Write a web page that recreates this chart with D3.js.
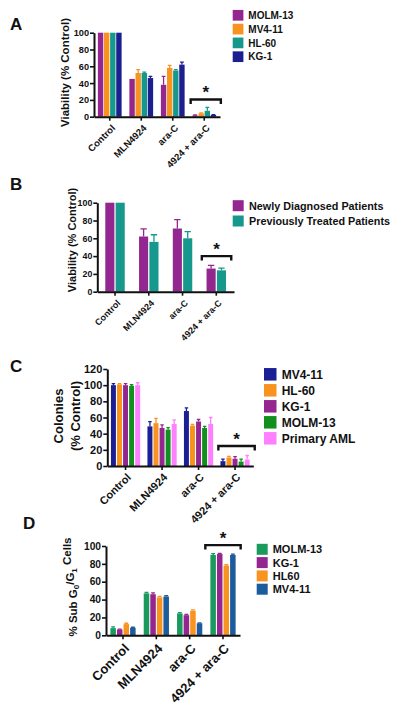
<!DOCTYPE html>
<html><head><meta charset="utf-8">
<script src="https://cdn.jsdelivr.net/npm/d3@7"></script>
<style>body{margin:0;background:#fff}svg{display:block}text{font-family:"Liberation Sans",Arial,sans-serif;font-weight:bold;fill:#111}</style>
</head><body>
<svg id="chart" width="400" height="707"></svg>
<script>
// ---------- data ----------
const groups = ["Control", "MLN4924", "ara-C", "4924 + ara-C"];
const yTicks100 = [0, 20, 40, 60, 80, 100];
const yTicks120 = [0, 20, 40, 60, 80, 100, 120];

// Panel A
const seriesA = ["MOLM-13", "MV4-11", "HL-60", "KG-1"];
const colorsA = ["#93278f", "#f7931e", "#17988c", "#1b1f8f"];
const valuesA = [[100, 45, 38, 1.5], [100, 52, 58, 4], [100, 52, 55, 7], [100, 46, 62, 2]];
const errorsA = [[0, 0, 10, 0.5], [0, 4, 3, 0.5], [0, 1, 1, 4], [0, 2, 3, 0.5]];

// Panel B
const seriesB = ["Newly Diagnosed Patients", "Previously Treated Patients"];
const colorsB = ["#93278f", "#17988c"];
const valuesB = [[100, 62, 71, 26], [100, 56, 60, 24]];
const errorsB = [[0, 8.5, 10, 3.5], [0, 8, 7.5, 2.5]];

// Panel C
const seriesC = ["MV4-11", "HL-60", "KG-1", "MOLM-13", "Primary AML"];
const colorsC = ["#1b1f96", "#f7931e", "#93278f", "#12901e", "#ff80ff"];
const valuesC = [[100, 49, 68, 6], [101, 53, 50, 10.5], [100, 47, 55, 9], [99, 45, 47, 5.5], [100, 52, 52, 8]];
const errorsC = [[2, 6, 4, 2.5], [1, 6, 1.5, 1.5], [2, 4, 2.5, 2.5], [1.5, 2.5, 2, 3], [3, 5, 8, 5]];

// Panel D
const seriesD = ["MOLM-13", "KG-1", "HL60", "MV4-11"];
const colorsD = ["#1b9a5e", "#93278f", "#f7931e", "#1c5b9c"];
const valuesD = [[8, 47, 24.5, 90], [6.5, 46, 22.5, 91], [12.5, 42.5, 27.5, 78], [8.5, 43.5, 13.5, 90]];
const errorsD = [[1.5, 1, 0.8, 1.5], [0.5, 1.5, 0.8, 0.8], [1, 1, 1, 1], [0.5, 1, 0.5, 0.8]];

// ---------- drawing ----------
const svg = d3.select("#chart");

function panel(o) {
  const g = svg.append("g");
  const y = d3.scaleLinear().domain([0, o.ymax]).range([o.y0, o.ytop]);
  const x0 = d3.scaleBand().domain(groups).range([o.xl, o.xr]).paddingInner(o.pi).paddingOuter(o.po);
  const x1 = d3.scaleBand().domain(o.series).range([0, x0.bandwidth()]).padding(o.bp);

  // bars + error bars
  o.series.forEach((s, si) => {
    groups.forEach((gr, gi) => {
      const v = o.values[si][gi], e = o.errors[si][gi];
      const bx = x0(gr) + x1(s), bw = x1.bandwidth();
      g.append("rect").attr("x", bx).attr("y", y(v)).attr("width", bw)
        .attr("height", y(0) - y(v)).attr("fill", o.colors[si]);
      if (e > 0) {
        const cx = bx + bw / 2, cw = bw * 0.35;
        g.append("path").attr("d", `M${cx},${y(v)}V${y(v + e)}M${cx - cw},${y(v + e)}H${cx + cw}`)
          .attr("stroke", o.colors[si]).attr("stroke-width", 1.3).attr("fill", "none");
      }
    });
  });

  // y axis
  const ya = g.append("g").attr("transform", `translate(${o.xl},0)`)
    .call(d3.axisLeft(y).tickValues(o.ticks).tickSize(4).tickSizeOuter(0).tickPadding(1));
  ya.select(".domain").attr("stroke", "#111").attr("stroke-width", 2);
  ya.selectAll(".tick line").attr("stroke", "#111").attr("stroke-width", 1.6);
  ya.selectAll(".tick text").style("font-size", o.tickFont + "px").style("font-weight", "bold")
    .style("font-family", '"Liberation Sans",Arial,sans-serif').attr("fill", "#111");

  // x axis
  const xa = g.append("g").attr("transform", `translate(0,${o.y0})`)
    .call(d3.axisBottom(x0).tickSize(4).tickSizeOuter(0).tickFormat(""));
  xa.select(".domain").attr("stroke", "#111").attr("stroke-width", 2);
  xa.selectAll(".tick line").attr("stroke", "#111").attr("stroke-width", 1.6);
  groups.forEach(gr => {
    const cx = x0(gr) + x0.bandwidth() / 2;
    g.append("text").attr("transform", `translate(${cx + o.xlDx},${o.y0 + o.xlDy}) rotate(-45)`)
      .attr("text-anchor", "end").style("font-size", o.xFont + "px").text(gr);
  });

  // bracket + star over last group
  const last = groups[groups.length - 1];
  const bx1 = x0(last) - o.brL, bx2 = x0(last) + x0.bandwidth() + o.brR, by = y(o.brV);
  g.append("path").attr("d", `M${bx1},${by + 4.5}V${by}H${bx2}V${by + 4.5}`)
    .attr("stroke", "#111").attr("stroke-width", 2.4).attr("fill", "none");
  g.append("text").attr("x", (bx1 + bx2) / 2).attr("y", by - 1.5).attr("text-anchor", "middle")
    .style("font-size", "17px").text("*");

  // legend
  o.series.forEach((s, i) => {
    const cy = o.legY + i * o.legStep;
    g.append("rect").attr("x", o.legX).attr("y", cy - o.legSize / 2).attr("width", o.legSize)
      .attr("height", o.legSize).attr("fill", o.colors[i]);
    g.append("text").attr("x", o.legTextX).attr("y", cy).attr("dy", "0.36em")
      .style("font-size", o.legFont + "px").text(s);
  });

  // panel letter
  g.append("text").attr("x", o.letterX).attr("y", o.letterY).style("font-size", "17px").text(o.letter);
  return {g, y};
}

// A
const pA = panel({series: seriesA, colors: colorsA, values: valuesA, errors: errorsA,
  ymax: 100, y0: 116.7, ytop: 32.7, xl: 94, xr: 220, pi: 0.2, po: 0.1, bp: 0.12, ticks: yTicks100,
  tickFont: 9.2, xFont: 9.5, xlDx: 6, xlDy: 12, brL: 1, brR: 4, brV: 20.5,
  legX: 232.7, legY: 15.3, legStep: 13.8, legSize: 10.7, legTextX: 248.3, legFont: 10,
  letter: "A", letterX: 10, letterY: 30});
pA.g.append("text").attr("transform", "translate(69,72.5) rotate(-90)").attr("text-anchor", "middle")
  .style("font-size", "11.5px").text("Viability (% Control)");

// B
const pB = panel({series: seriesB, colors: colorsB, values: valuesB, errors: errorsB,
  ymax: 100, y0: 291.7, ytop: 202.7, xl: 97.3, xr: 234, pi: 0.35, po: 0.2, bp: 0.12, ticks: yTicks100,
  tickFont: 8.8, xFont: 9, xlDx: 6, xlDy: 12, brL: 3.5, brR: 4, brV: 40,
  legX: 232.7, legY: 205.7, legStep: 15.3, legSize: 11, legTextX: 249, legFont: 10.8,
  letter: "B", letterX: 10, letterY: 190});
pB.g.append("text").attr("transform", "translate(75.5,240) rotate(-90)").attr("text-anchor", "middle")
  .style("font-size", "11px").text("Viability (% Control)");

// C
const pC = panel({series: seriesC, colors: colorsC, values: valuesC, errors: errorsC,
  ymax: 120, y0: 466, ytop: 369, xl: 107.3, xr: 253.3, pi: 0.14, po: 0.07, bp: 0.18, ticks: yTicks120,
  tickFont: 11, xFont: 11, xlDx: 6, xlDy: 12, brL: 1, brR: 4, brV: 24.7,
  legX: 264, legY: 374.3, legStep: 16, legSize: 12.5, legTextX: 281.7, legFont: 12,
  letter: "C", letterX: 10, letterY: 372});
pC.g.append("text").attr("transform", "translate(62.5,416) rotate(-90)").attr("text-anchor", "middle")
  .style("font-size", "13px").text("Colonies");
pC.g.append("text").attr("transform", "translate(79.5,416) rotate(-90)").attr("text-anchor", "middle")
  .style("font-size", "13px").text("(% Control)");

// D
const pD = panel({series: seriesD, colors: colorsD, values: valuesD, errors: errorsD,
  ymax: 100, y0: 635.3, ytop: 546, xl: 106, xr: 240, pi: 0.18, po: 0.1, bp: 0.16, ticks: yTicks100,
  tickFont: 10.2, xFont: 13, xlDx: 7, xlDy: 14, brL: 4, brR: 4, brV: 101,
  legX: 256.7, legY: 549.3, legStep: 13.3, legSize: 11, legTextX: 272.7, legFont: 11,
  letter: "D", letterX: 23, letterY: 529});
const dl = pD.g.append("text").attr("transform", "translate(77,587) rotate(-90)").attr("text-anchor", "middle")
  .style("font-size", "11.5px");
dl.append("tspan").text("% Sub G");
dl.append("tspan").attr("dy", "0.3em").style("font-size", "8px").text("0");
dl.append("tspan").attr("dy", "-0.45em").text("/G");
dl.append("tspan").attr("dy", "0.3em").style("font-size", "8px").text("1");
dl.append("tspan").attr("dy", "-0.45em").text(" Cells");
</script>
</body></html>
